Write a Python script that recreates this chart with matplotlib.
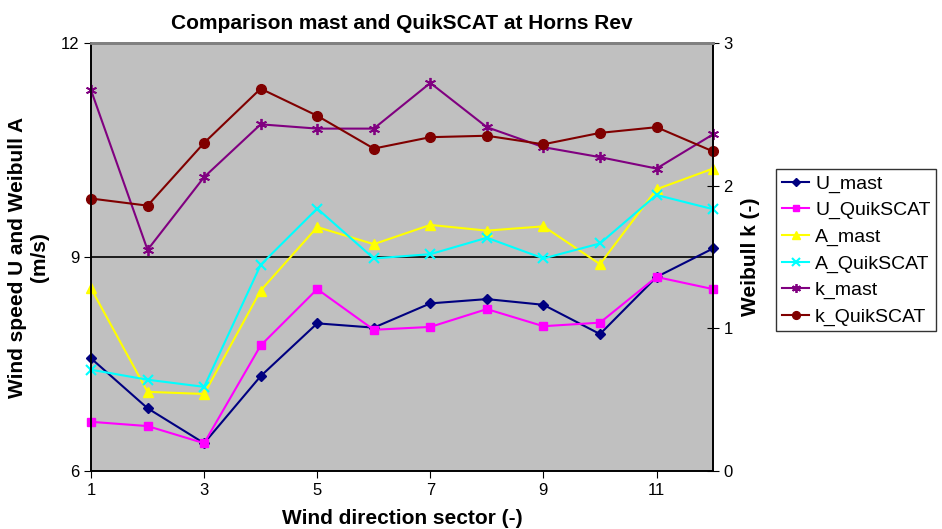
import numpy as np
import matplotlib
matplotlib.use("Agg")
from matplotlib import pyplot as plt

plt.rcParams['font.family'] = ['Liberation Sans', 'DejaVu Sans']

sectors = np.arange(1, 13)
u_mast = [7.58, 6.88, 6.39, 7.33, 8.07, 8.01, 8.35, 8.41, 8.33, 7.92, 8.72, 9.12]
u_quikscat = [6.69, 6.63, 6.39, 7.76, 8.55, 7.98, 8.02, 8.27, 8.03, 8.08, 8.72, 8.55]
a_mast = [8.56, 7.11, 7.08, 8.53, 9.42, 9.18, 9.45, 9.37, 9.43, 8.90, 9.95, 10.24]
a_quikscat = [7.42, 7.28, 7.18, 8.89, 9.68, 8.98, 9.04, 9.27, 8.98, 9.19, 9.87, 9.67]
k_mast = [2.67, 1.55, 2.06, 2.43, 2.40, 2.40, 2.72, 2.41, 2.27, 2.20, 2.12, 2.36]
k_quikscat = [1.91, 1.86, 2.30, 2.68, 2.49, 2.26, 2.34, 2.35, 2.29, 2.37, 2.41, 2.24]

fig = plt.figure(figsize=(9.42, 5.29), dpi=100)
ax = fig.add_axes([0.0966, 0.1096, 0.6604, 0.8091])
ax2 = ax.twinx()

ax.set_facecolor('#C0C0C0')
ax.axhline(9, color='black', lw=1.2, zorder=1)

lines = []
lines += ax.plot(sectors, u_mast, color='#000080', marker='D', ms=5, lw=1.5, label='U_mast', clip_on=False)
lines += ax.plot(sectors, u_quikscat, color='#FF00FF', marker='s', ms=6, lw=1.5, label='U_QuikSCAT', clip_on=False)
lines += ax.plot(sectors, a_mast, color='#FFFF00', marker='^', ms=7, lw=1.5, label='A_mast', clip_on=False)
lines += ax.plot(sectors, a_quikscat, color='#00FFFF', marker='x', ms=7, mew=1.5, lw=1.5, label='A_QuikSCAT', clip_on=False)
lines += ax2.plot(sectors, k_mast, color='#800080', marker=(6, 2, 0), ms=8, mew=1.3, lw=1.5, label='k_mast', clip_on=False)
lines += ax2.plot(sectors, k_quikscat, color='#800000', marker='o', ms=7, lw=1.5, label='k_QuikSCAT', clip_on=False)

ax.set_xlim(1, 12)
ax.set_ylim(6, 12)
ax2.set_ylim(0, 3)
ax.set_xticks([1, 3, 5, 7, 9, 11])
ax.set_yticks([6, 9, 12])
ax2.set_yticks([0, 1, 2, 3])
ax.tick_params(direction='out', length=5, labelsize=12)
ax2.tick_params(direction='inout', length=8, labelsize=12)

for a in (ax, ax2):
    a.spines['top'].set_color('#808080')
    a.spines['top'].set_linewidth(2)
    a.spines['left'].set_linewidth(1.2)
    a.spines['right'].set_linewidth(1.2)
    a.spines['bottom'].set_linewidth(1.2)

ax.set_title('Comparison mast and QuikSCAT at Horns Rev', fontsize=15, fontweight='bold', pad=10)
ax.set_xlabel('Wind direction sector (-)', fontsize=15, fontweight='bold', labelpad=8)
ax.set_ylabel('Wind speed U and Weibull A\n(m/s)', fontsize=15, fontweight='bold', labelpad=8)
ax2.set_ylabel('Weibull k (-)', fontsize=15, fontweight='bold', labelpad=6)

leg = fig.legend(handles=lines, loc='upper left', bbox_to_anchor=(0.824, 0.68),
                 fontsize=14, frameon=True, fancybox=False, edgecolor='black',
                 handlelength=1.4, handletextpad=0.3, labelspacing=0.45, borderpad=0.3,
                 markerscale=0.8, borderaxespad=0)
leg.get_frame().set_linewidth(1.0)

fig.savefig('out.png', dpi=100)
